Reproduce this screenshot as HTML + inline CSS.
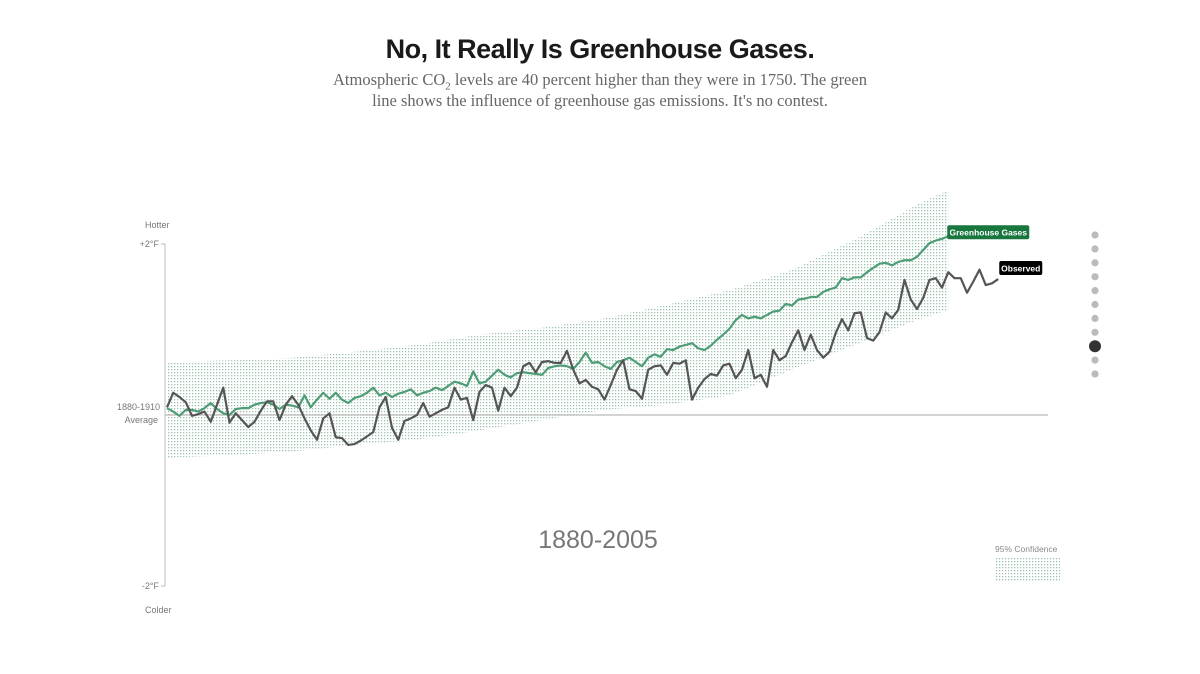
<!DOCTYPE html>
<html><head><meta charset="utf-8">
<style>
html,body{margin:0;padding:0;background:#fff;}
body{width:1200px;height:674px;position:relative;overflow:hidden;font-family:"Liberation Sans",sans-serif;}
#title{position:absolute;left:0;width:1200px;top:34px;text-align:center;font-size:27px;font-weight:bold;color:#1a1a1a;letter-spacing:-0.5px;}
#sub{position:absolute;left:325px;width:550px;top:69px;text-align:center;font-family:"Liberation Serif",serif;font-size:16.5px;line-height:21px;color:#666;}
svg{position:absolute;left:0;top:0;}
</style></head><body>
<div id="title">No, It Really Is Greenhouse Gases.</div>
<div id="sub">Atmospheric CO<sub style="font-size:11px;line-height:0">2</sub> levels are 40 percent higher than they were in 1750. The green line shows the influence of greenhouse gas emissions. It's no contest.</div>
<svg id="chart" width="1200" height="674">
<defs>
<pattern id="dots" width="3" height="3" patternUnits="userSpaceOnUse"><rect x="0" y="0" width="1.3" height="1.3" fill="#9fc2ae"/></pattern>
</defs>
</svg>
<script>
const startYear = 1880;
const observed = [.09,.26,.21,.15,-.01,.01,.04,-.08,.12,.32,
-.09,.02,-.06,-.14,-.08,.05,.16,.16,-.06,.12,
.22,.12,-.04,-.18,-.29,-.04,.02,-.26,-.27,-.35,
-.34,-.30,-.25,-.20,.09,.21,-.15,-.29,-.07,-.04,
0,.14,-.02,.02,.06,.09,.32,.18,
.20,-.06,.27,.35,.32,.05,.32,.22,.32,.57,
.61,.50,.62,.63,.61,.61,.75,.53,.37,.41,
.33,.30,.18,.35,.53,.64,.30,.28,.19,.53,
.57,.58,.47,.61,.60,.64,.18,.32,.42,.48,
.46,.58,.60,.43,.53,.76,
.43,.47,.33,.76,.64,.69,.85,.99,.76,.94,
.76,.67,.74,.96,1.12,.99,1.19,1.20,.90,.87,
.97,1.20,1.13,1.23,1.58,1.35,1.24,1.37,1.58,1.60,
1.49,1.67,1.60,1.60,1.43,1.56,1.70,1.52,1.54,1.59];
const greenhouse = [.08,.04,-.01,.06,.06,.04,.08,.14,.07,.02,
0,.07,.08,.08,.12,.14,.15,.12,.07,.12,
.11,.09,.23,.09,.18,.26,.19,.26,.18,.14,
.20,.22,.26,.32,.23,.26,.21,.25,.27,.30,
.23,.26,.28,.32,.29,.34,.39,.37,.34,.51,
.37,.39,.46,.53,.47,.44,.49,.50,.49,.48,
.47,.55,.57,.58,.57,.54,.62,.73,.61,.62,
.57,.54,.62,.64,.67,.62,.57,.67,.71,.68,
.77,.76,.80,.82,.84,.78,.76,.81,.88,.94,
1.01,1.11,1.17,1.13,1.15,1.13,1.17,1.21,1.22,1.30,
1.28,1.35,1.36,1.38,1.38,1.44,1.47,1.49,1.60,1.58,
1.61,1.61,1.67,1.72,1.77,1.78,1.75,1.79,1.81,1.81,
1.85,1.93,2.01,2.04,2.06,2.09];
const bandYears = [1880,1890,1900,1910,1920,1930,1940,1950,1960,1970,1980,1990,2000,2005];
const bandUpper = [.62,.64,.67,.74,.82,.94,1.02,1.13,1.29,1.46,1.70,2.05,2.46,2.63];
const bandLower = [-.50,-.47,-.43,-.35,-.29,-.18,-.06,.06,.12,.23,.53,.82,1.11,1.23];
const yTicks = ["+2°F","-2°F"];
const yTickVals = [2,-2];

const NS="http://www.w3.org/2000/svg";
const svg=document.getElementById('chart');
const x=yr=>167+(yr-1880)*6.25;
const y=v=>415-v*85.5;
function mk(tag,attrs,parent){const e=document.createElementNS(NS,tag);for(const k in attrs)e.setAttribute(k,attrs[k]);(parent||svg).appendChild(e);return e;}

let pts=bandYears.map((yr,i)=>x(yr)+','+y(bandUpper[i]));
for(let i=bandYears.length-1;i>=0;i--)pts.push(x(bandYears[i])+','+y(bandLower[i]));
const band=mk('polygon',{points:pts.join(' '),fill:'url(#dots)'});



const ax=mk('line',{x1:165,x2:165,y1:y(2),y2:y(-2),stroke:'#bbb','stroke-width':1});


yTickVals.forEach((v,i)=>{
  const t=mk('line',{x1:161,x2:165,y1:y(v),y2:y(v),stroke:'#bbb'});
  
  
  const l=mk('text',{x:159,y:y(v)+3,'text-anchor':'end','font-size':9,fill:'#777'});
  l.textContent=yTicks[i];
  
  
});
const zl=mk('line',{x1:165,x2:1048,y1:y(0),y2:y(0),stroke:'#bbb','stroke-width':1.2});



function addText(txt,xx,yy,size,fill,anchor,name){
  const t=mk('text',{x:xx,y:yy,'font-size':size,fill:fill,'text-anchor':anchor});
  t.textContent=txt;
  
  
  return t;
}
addText('Hotter',145,228,9,'#777','start','hotter-label');
addText('Colder',145,613,9,'#777','start','colder-label');
addText('1880-1910',160,410,9,'#777','end','baseline-label-years');
addText('Average',158,423,9,'#777','end','baseline-label-average');
addText('1880-2005',598,548,25,'#777','middle','period-label');
addText('95% Confidence',995,552,8.5,'#888','start','legend-label');
const lb=mk('rect',{x:995,y:558,width:65,height:24,fill:'url(#dots)'});



function line(data,color,name){
  const d=data.map((v,i)=>(i?'L':'M')+x(startYear+i).toFixed(2)+','+y(v).toFixed(2)).join('');
  const p=mk('path',{d:d,fill:'none',stroke:color,'stroke-width':2.2,'stroke-linejoin':'round'});
  
  
}
line(greenhouse,'#4e9d76','greenhouse-line');
line(observed,'#555','observed-line');

function tag(txt,xx,yy,w,bg,name){
  const g=mk('g',{});
  
  
  mk('rect',{x:xx,y:yy-7,width:w,height:14,rx:2,fill:bg},g);
  const t=mk('text',{x:xx+w/2,y:yy+3.2,'font-size':8.5,'font-weight':'bold',fill:'#fff','text-anchor':'middle'},g);
  t.textContent=txt;
}
const gl=greenhouse.length-1, ol=observed.length-1;
tag('Greenhouse Gases',x(startYear+gl)-1,y(greenhouse[gl])-4,82,'#17773f','greenhouse-label');
tag('Observed',x(startYear+ol)+1,y(observed[ol])-11,43,'#000','observed-label');

for(let i=0;i<11;i++){
  const big=i===8;
  const c=mk('circle',{cx:1095,cy:235+i*13.9,r:big?6:3.6,fill:big?'#333':'#bbb'});
  
  
}
</script>
</body></html>
